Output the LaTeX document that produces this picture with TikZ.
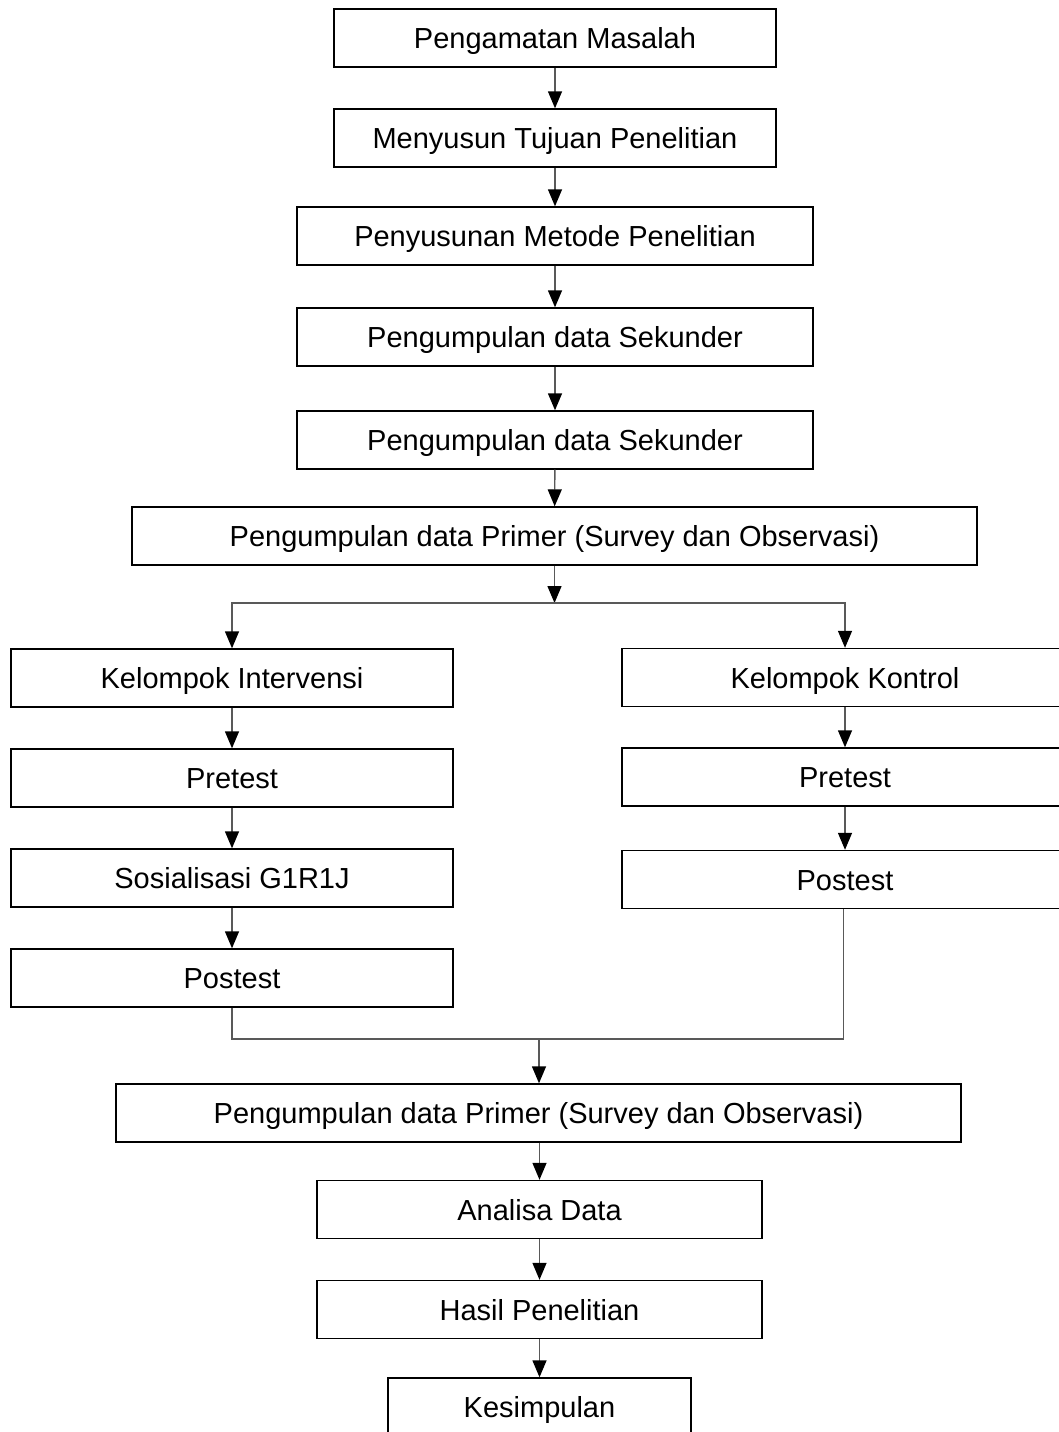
\documentclass[tikz,border=0pt]{standalone}
\usepackage{fontspec}
\setmainfont{Liberation Sans}
\usetikzlibrary{arrows.meta}
\tikzset{
  box/.style={draw=black, line width=1.4pt, rectangle, minimum height=58pt, align=center,
    inner sep=0pt, text height=21pt, text depth=0pt, font=\fontsize{29}{34}\selectfont},
  ln/.style={draw=black!65, line width=1.4pt},
  arr/.style={ln, -{Triangle[width=14pt,length=17pt,black]}}
}
\begin{document}
\begin{tikzpicture}[x=1pt,y=-1pt]
\useasboundingbox (0,0) rectangle (1059,1432);
\clip (0,0) rectangle (1059,1432);
\fill[white] (0,0) rectangle (1059,1432);
% central column
\node[box, minimum width=442pt] (b1) at (555,38) {Pengamatan Masalah};
\node[box, minimum width=442pt] (b2) at (555,138) {Menyusun Tujuan Penelitian};
\node[box, minimum width=516pt] (b3) at (555,236) {Penyusunan Metode Penelitian};
\node[box, minimum width=516pt] (b4) at (555,337) {Pengumpulan data Sekunder};
\node[box, minimum width=516pt] (b5) at (555,440) {Pengumpulan data Sekunder};
\node[box, minimum width=845pt] (b6) at (554.5,536) {Pengumpulan data Primer (Survey dan Observasi)};
% left column
\node[box, minimum width=442pt] (l1) at (232,678) {Kelompok Intervensi};
\node[box, minimum width=442pt] (l2) at (232,778) {Pretest};
\node[box, minimum width=442pt] (l3) at (232,878) {Sosialisasi G1R1J};
\node[box, minimum width=442pt] (l4) at (232,978) {Postest};
% right column
\node[box, minimum width=446pt] (r1) at (845,677.5) {Kelompok Kontrol};
\node[box, minimum width=446pt] (r2) at (845,777) {Pretest};
\node[box, minimum width=446pt] (r3) at (845,879.5) {Postest};
% lower column
\node[box, minimum width=845pt] (c1) at (538.5,1113) {Pengumpulan data Primer (Survey dan Observasi)};
\node[box, minimum width=445pt] (c2) at (539.5,1209.5) {Analisa Data};
\node[box, minimum width=445pt] (c3) at (539.5,1309.5) {Hasil Penelitian};
\node[box, minimum width=303pt] (c4) at (539.5,1407) {Kesimpulan};
% connectors
\draw[arr] (b1) -- (b2);
\draw[arr] (b2) -- (b3);
\draw[arr] (b3) -- (b4);
\draw[arr] (b4) -- (b5);
\draw[arr] (b5) -- (b6);
\coordinate (split) at (554.5,603);
\draw[arr] (b6.south) -- (split);
\draw[arr] (split) -| (l1.north);
\draw[arr] (split) -| (r1.north);
\draw[arr] (l1) -- (l2);
\draw[arr] (l2) -- (l3);
\draw[arr] (l3) -- (l4);
\draw[arr] (r1) -- (r2);
\draw[arr] (r2) -- (r3);
\coordinate (join) at (539,1039);
\draw[ln] (l4.south) |- (join);
\draw[ln] (r3.south -| 843.5,0) |- (join);
\draw[arr] (join) -- (join |- c1.north);
\draw[arr] (c1.south -| c2.north) -- (c2.north);
\draw[arr] (c2) -- (c3);
\draw[arr] (c3) -- (c4);
\end{tikzpicture}
\end{document}
